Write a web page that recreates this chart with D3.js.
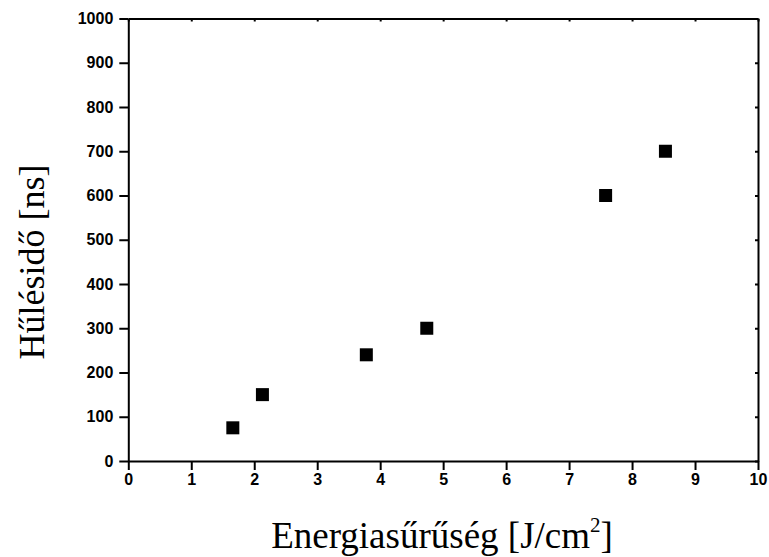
<!DOCTYPE html>
<html>
<head>
<meta charset="utf-8">
<script src="https://cdn.jsdelivr.net/npm/d3@7"></script>
<style>
  body { margin:0; background:#fff; }
  .title { font-family:"Liberation Serif", "Times New Roman", serif; font-size:36px; fill:#000; }
</style>
</head>
<body>
<div id="canvas"></div>
<script>
// values
var energy = [1.66, 2.13, 3.78, 4.74, 7.58, 8.53];
var coolTime = [75, 150, 240, 300, 600, 700];
var xTicks = [0,1,2,3,4,5,6,7,8,9,10];
var yTicks = [0,100,200,300,400,500,600,700,800,900,1000];

var margin = {t:18.5, r:11, b:96, l:128.3},
    W = 769, H = 557,
    width = W - margin.l - margin.r,
    height = H - margin.t - margin.b;

var svg = d3.select('#canvas').append('svg')
    .attr('width', W).attr('height', H);
var g = svg.append('g')
    .attr('transform','translate('+margin.l+','+margin.t+')');

var x = d3.scaleLinear().domain([0,10]).range([0,width]);
var y = d3.scaleLinear().domain([0,1000]).range([height,0]);

// bottom + left: outward ticks with labels
var xAx = g.append('g').attr('transform','translate(0,'+height+')')
    .call(d3.axisBottom(x).tickValues(xTicks).tickFormat(d3.format('d'))
        .tickSize(9).tickSizeOuter(0).tickPadding(4));
var yAx = g.append('g')
    .call(d3.axisLeft(y).tickValues(yTicks).tickFormat(d3.format('d'))
        .tickSize(9).tickSizeOuter(0).tickPadding(6));
xAx.attr('font-size', 16).attr('font-family', 'Liberation Sans, Arial, sans-serif').attr('font-weight','bold');
yAx.attr('font-size', 16).attr('font-family', 'Liberation Sans, Arial, sans-serif').attr('font-weight','bold');

// top + right: small inward ticks, no labels
g.append('g').call(d3.axisTop(x).tickValues(xTicks).tickSize(-3).tickSizeOuter(0).tickFormat(''));
g.append('g').attr('transform','translate('+width+',0)')
    .call(d3.axisRight(y).tickValues(yTicks).tickSize(-3).tickSizeOuter(0).tickFormat(''));

g.selectAll('.domain').style('stroke','#000').style('stroke-width','2px');
g.selectAll('.tick line').style('stroke','#000').style('stroke-width','2px');

// markers
var s = 13;
g.selectAll('rect.pt').data(energy).enter().append('rect')
    .attr('class','pt')
    .attr('x', function(d){ return x(d) - s/2; })
    .attr('y', function(d,i){ return y(coolTime[i]) - s/2; })
    .attr('width', s).attr('height', s)
    .style('fill','#000');

// axis titles
var xt = svg.append('text').attr('class','title')
    .attr('x', 442).attr('y', 548).attr('text-anchor','middle')
    .style('font-size','37px');
xt.append('tspan').text('Energiasűrűség [J/cm');
xt.append('tspan').style('font-size','21px').attr('dy',-16).text('2');
xt.append('tspan').attr('dy',16).text(']');

svg.append('text').attr('class','title')
    .attr('transform','translate(44,262) rotate(-90)')
    .attr('text-anchor','middle')
    .text('Hűlésidő [ns]');
</script>
</body>
</html>
